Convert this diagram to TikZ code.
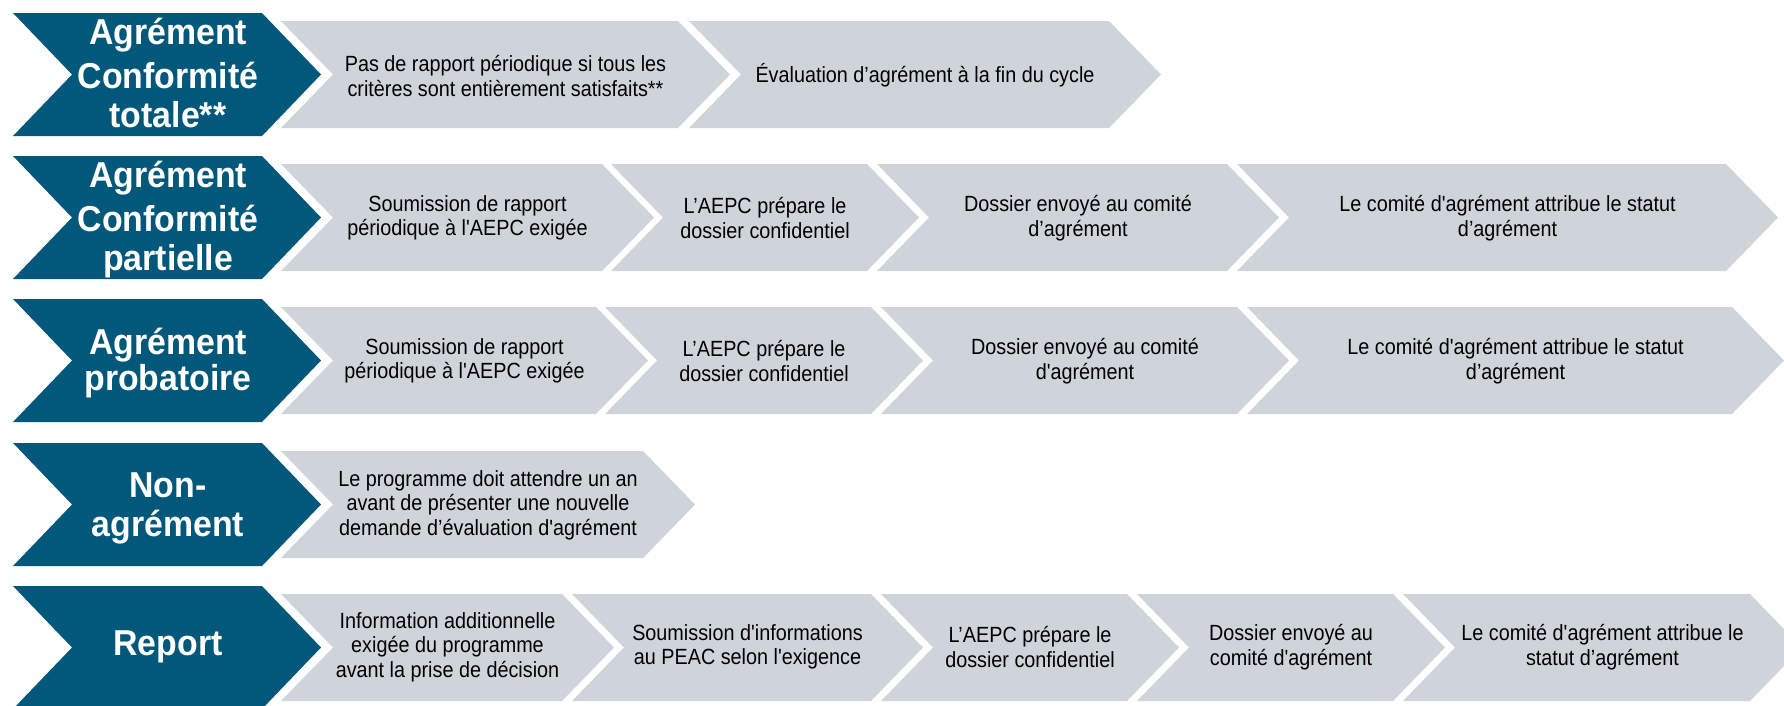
\documentclass[tikz,border=0pt]{standalone}
\usepackage{fontspec}
\newfontfamily\gfont{Liberation Sans}[FakeStretch=0.9]
\newfontfamily\dfont{Liberation Sans}[FakeStretch=0.94]
\definecolor{darkblue}{RGB}{2,88,123}
\definecolor{lightgray}{RGB}{207,212,219}
\newcommand\chv[6]{%
  \fill[#6] (#1,#3) -- (#2,#3) -- ({#2+#5},{(#3+#4)/2}) -- (#2,#4) -- (#1,#4) -- ({#1+#5},{(#3+#4)/2}) -- cycle;}
\tikzset{
  gtext/.style={align=center, text=black, inner sep=0pt, font={\gfont\fontsize{22}{24.5}\selectfont}},
  dtext/.style={align=center, text=white, inner sep=0pt, font={\dfont\bfseries\fontsize{36}{39}\selectfont}},
}
\begin{document}
\begin{tikzpicture}[x=1pt,y=-1pt]
\useasboundingbox (0,0) rectangle (1784,705);
% ---------- Row 1
\chv{13}{262}{13}{136}{59}{darkblue}
\chv{281}{678}{21}{128}{52}{lightgray}
\chv{689}{1109}{21}{128}{52}{lightgray}
\node[dtext] (d1) at (168,73) {Agrément\\[5pt]Conformité\\totale**};
\node[gtext] (a1) at ({(281+52+678)/2},76) {Pas de rapport périodique si tous les\\critères sont entièrement satisfaits**};
\node[gtext] (a2) at ({(689+52+1109)/2},75) {Évaluation d’agrément à la fin du cycle};
% ---------- Row 2
\chv{13}{262}{156}{279}{59}{darkblue}
\chv{281}{602}{164}{271}{52}{lightgray}
\chv{611}{867}{164}{271}{52}{lightgray}
\chv{877}{1227}{164}{271}{52}{lightgray}
\chv{1237}{1726}{164}{271}{52}{lightgray}
\node[dtext] (d2) at (168,220) {Agrément\\[5pt]Conformité\\partielle};
\node[gtext] (b1) at ({(281+52+602)/2},218) {Soumission de rapport\\périodique à l'AEPC exigée};
\node[gtext] (b2) at ({(611+52+867)/2},218) {L’AEPC prépare le\\dossier confidentiel};
\node[gtext] (b3) at ({(877+52+1227)/2},218) {Dossier envoyé au comité\\d’agrément};
\node[gtext] (b4) at ({(1237+52+1726)/2},218) {Le comité d'agrément attribue le statut\\d’agrément};
% ---------- Row 3
\chv{13}{262}{299}{422}{59}{darkblue}
\chv{281}{596}{307}{414}{52}{lightgray}
\chv{605}{871}{307}{414}{52}{lightgray}
\chv{881}{1237}{307}{414}{52}{lightgray}
\chv{1247}{1732}{307}{414}{52}{lightgray}
\node[dtext] (d3) at (168,363) {Agrément\\[-3pt]probatoire};
\node[gtext] (c1) at ({(281+52+596)/2},361) {Soumission de rapport\\périodique à l'AEPC exigée};
\node[gtext] (c2) at ({(605+52+871)/2},361) {L’AEPC prépare le\\dossier confidentiel};
\node[gtext] (c3) at ({(881+52+1237)/2},361) {Dossier envoyé au comité\\d'agrément};
\node[gtext] (c4) at ({(1247+52+1732)/2},361) {Le comité d'agrément attribue le statut\\d’agrément};
% ---------- Row 4
\chv{13}{262}{443}{566}{59}{darkblue}
\chv{281}{643}{451}{558}{52}{lightgray}
\node[dtext] (d4) at (168,508) {Non-\\agrément};
\node[gtext] (e1) at ({(281+52+643)/2},505) {Le programme doit attendre un an\\avant de présenter une nouvelle\\demande d’évaluation d'agrément};
% ---------- Row 5
\chv{13}{262}{586}{709}{59}{darkblue}
\chv{281}{562}{594}{701}{52}{lightgray}
\chv{572}{871}{594}{701}{52}{lightgray}
\chv{881}{1127}{594}{701}{52}{lightgray}
\chv{1137}{1393}{594}{701}{52}{lightgray}
\chv{1403}{1750}{594}{701}{52}{lightgray}
\node[dtext] (d5) at (168,647) {Report};
\node[gtext] (f1) at ({(281+52+562)/2},647) {Information additionnelle\\exigée du programme\\avant la prise de décision};
\node[gtext] (f2) at ({(572+52+871)/2},647) {Soumission d'informations\\au PEAC selon l'exigence};
\node[gtext] (f3) at ({(881+52+1127)/2},647) {L’AEPC prépare le\\dossier confidentiel};
\node[gtext] (f4) at ({(1137+52+1393)/2},647) {Dossier envoyé au\\comité d'agrément};
\node[gtext] (f5) at ({(1403+52+1750)/2},647) {Le comité d'agrément attribue le\\statut d’agrément};
\end{tikzpicture}
\end{document}
